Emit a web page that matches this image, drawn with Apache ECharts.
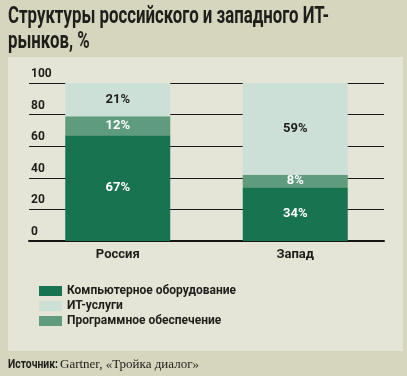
<!DOCTYPE html>
<html>
<head>
<meta charset="utf-8">
<script src="https://cdn.jsdelivr.net/npm/echarts@6/dist/echarts.min.js"></script>
<style>
  html, body { margin: 0; padding: 0; background: #d6d5bd; }
  #chart { width: 407px; height: 376px; }
</style>
</head>
<body>
<div id="chart"></div>
<script>
// данные
const categories = ['Россия', 'Запад']
const hardware = [67, 34]   // Компьютерное оборудование
const software = [12, 8]    // Программное обеспечение
const services = [21, 59]   // ИТ-услуги
const yTicks = [0, 20, 40, 60, 80, 100]

const narrow = "Roboto, 'Liberation Sans', sans-serif"
const ink = '#1e1e1a'

const chart = echarts.init(document.getElementById('chart'))

const barLabel = color => ({
  show: true,
  position: 'inside',
  formatter: '{c}%',
  color: color,
  fontFamily: narrow,
  fontWeight: 'bold',
  fontSize: 13
})

chart.setOption({
  animation: false,
  backgroundColor: '#d6d5bd',
  graphic: [
    // светлая панель
    {type: 'rect', left: 8, top: 57, shape: {width: 395, height: 294}, style: {fill: '#e5e5d7'}, z: -10},
    // заголовок (сжат по горизонтали, как узкий шрифт оригинала)
    {
      type: 'text', x: 8, y: 4, scaleX: 0.7,
      style: {
        text: 'Структуры российского и западного ИТ-\nрынков, %',
        fontFamily: narrow,
        fontWeight: 'bold',
        fontSize: 24,
        fill: ink,
        lineHeight: 25
      }
    },
    {
      type: 'text', x: 8, y: 358, scaleX: 0.8,
      style: {text: 'Источник:', fontFamily: narrow, fontWeight: 'bold', fontSize: 13, fill: ink}
    },
    {
      type: 'text', x: 60, y: 358,
      style: {text: 'Gartner, «Тройка диалог»', fontFamily: "'Liberation Serif', serif", fontSize: 13, fill: ink}
    }
  ],
  legend: {
    orient: 'vertical',
    left: 34,
    top: 280,
    itemWidth: 23,
    itemHeight: 10,
    itemGap: 3,
    icon: 'rect',
    data: ['Компьютерное оборудование', 'ИТ-услуги', 'Программное обеспечение'],
    textStyle: {fontFamily: narrow, fontWeight: 'bold', fontSize: 12, color: ink}
  },
  grid: {left: 29, right: 23, top: 83, height: 158},
  xAxis: {
    type: 'category',
    data: categories,
    axisLine: {lineStyle: {color: '#151515', width: 2}},
    axisTick: {show: false},
    axisLabel: {fontFamily: narrow, fontWeight: 'bold', fontSize: 13, color: ink, margin: 7}
  },
  yAxis: {
    type: 'value',
    min: 0, max: 100, interval: 20,
    axisLine: {show: false},
    axisTick: {show: false},
    splitLine: {lineStyle: {color: '#1a1a1a', width: 1}},
    axisLabel: {
      inside: true,
      margin: 2,
      verticalAlign: 'bottom',
      padding: [0, 0, 3, 0],
      fontFamily: narrow,
      fontWeight: 'bold',
      fontSize: 12,
      color: ink,
      customValues: yTicks
    }
  },
  series: [
    {name: 'Компьютерное оборудование', type: 'bar', stack: 'all', barWidth: 105, data: hardware,
      itemStyle: {color: '#177350'}, label: barLabel('#ffffff')},
    {name: 'Программное обеспечение', type: 'bar', stack: 'all', data: software,
      itemStyle: {color: '#5f9b7d'}, label: barLabel('#ffffff')},
    {name: 'ИТ-услуги', type: 'bar', stack: 'all', data: services,
      itemStyle: {color: '#cde0d7'}, label: barLabel(ink)}
  ]
})
</script>
</body>
</html>
